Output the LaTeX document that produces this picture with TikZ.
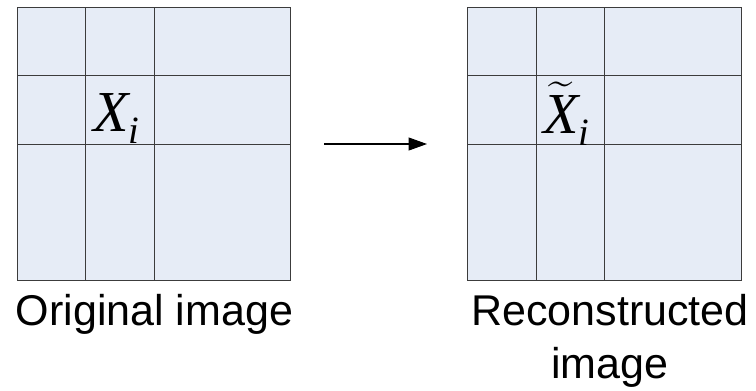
\documentclass[tikz,border=0pt]{standalone}
\usepackage{fontspec}
\setsansfont{Liberation Sans}
\newfontfamily\blockfont{Liberation Serif}
\usepackage{amsmath}
\usetikzlibrary{arrows.meta}

\definecolor{cellfill}{RGB}{230,236,246}
\definecolor{gridgray}{RGB}{60,60,60}

% italic serif letters in the block labels, index set low and small
\newcommand{\bvar}[1]{\hbox{\blockfont\itshape #1}}
\newcommand{\bidx}[1]{\lower 7.2pt\hbox{\blockfont\itshape\fontsize{22}{24}\selectfont #1}}

\tikzset{
    caption/.style={font=\sffamily\fontsize{24.5}{30}\selectfont, inner sep=0pt, align=center},
    blockvar/.style={font=\fontsize{33}{38}\selectfont, inner sep=0pt, anchor=base west},
}

\begin{document}
\begin{tikzpicture}[x=0.02cm,y=-0.02cm]
    \useasboundingbox (0,0) rectangle (756,390);

    % two images, each cut into blocks (cell = 68.4 px)
    \begin{scope}[draw=gridgray, line width=0.55pt]
    \foreach \x/\nm in {17.3/orig,467.8/recon}{%
        \filldraw [fill=cellfill] (\x,7.3) rectangle +(273.6,273.6);
        \coordinate (\nm) at (\x+136.8,7.3+136.8);
        \foreach \k in {1,2}{%
            \draw (\x+\k*68.4,7.3) -- +(0,273.6);
            \draw (\x,7.3+\k*68.4) -- +(273.6,0);}
    }
    \end{scope}

    % the block that is looked at
    \node [blockvar] (xi)  at (93,131)  {$\bvar{X}\bidx{i}$};
    \node [blockvar] (xti) at (543,133) {$\widetilde{\bvar{X}}\bidx{i}$};

    % from original to reconstruction
    \coordinate (arrs) at (324,144);
    \coordinate (arre) at (427,144);
    \draw [line width=0.6pt, -{Triangle[length=10.5pt,width=7.4pt]}] (arrs) -- (arre);

    % captions (base = baseline of the last line)
    \node [caption, anchor=base] (origtxt)  at (154.5,325) {Original image};
    \node [caption, anchor=base] (recontxt) at (610,378)   {Reconstructed\\image};
\end{tikzpicture}
\end{document}
